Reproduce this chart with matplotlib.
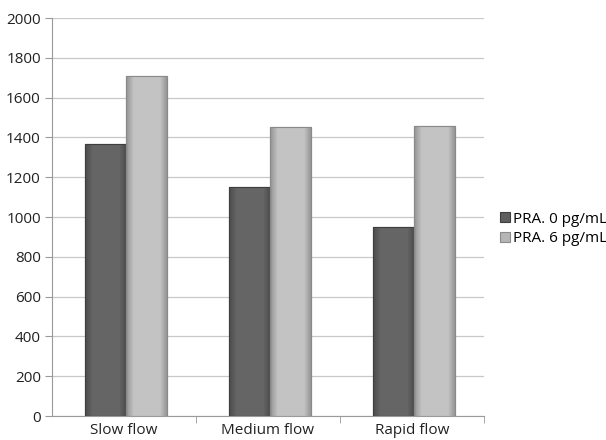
import matplotlib.pyplot as plt
import numpy as np

categories = ["Slow flow", "Medium flow", "Rapid flow"]
pra_0 = [1365, 1150, 950]
pra_6 = [1710, 1452, 1458]
series_labels = ["PRA. 0 pg/mL", "PRA. 6 pg/mL"]
y_ticks = [0, 200, 400, 600, 800, 1000, 1200, 1400, 1600, 1800, 2000]

plt.rcParams['font.family'] = ['Open Sans', 'DejaVu Sans']

fig = plt.figure(figsize=(6.06, 4.4), dpi=100)
ax = fig.add_axes([0.0858, 0.0545, 0.713, 0.9045])

x = np.arange(len(categories))
w = 0.285
shift = 0.015
colors = ["#5e5e5e", "#b5b5b5"]
edges = ["#3e3e3e", "#8a8a8a"]


def shade_bars(bars, base):
    # soft horizontal gradient to mimic the bevelled Excel look
    c = np.array(plt.matplotlib.colors.to_rgb(base))
    prof = np.concatenate([np.linspace(0.82, 1.08, 8), np.full(24, 1.08), np.linspace(1.08, 0.8, 8)])
    img = np.clip(c[None, :] * prof[:, None], 0, 1)[None, :, :]
    for b in bars:
        x0, y0 = b.get_x(), b.get_y()
        im = ax.imshow(img, extent=[x0, x0 + b.get_width(), y0, y0 + b.get_height()],
                       aspect='auto', zorder=3, interpolation='bilinear')
        im.set_clip_path(b)


b0 = ax.bar(x - w / 2 + shift, pra_0, w, color=colors[0], edgecolor=edges[0], linewidth=0.8,
            label=series_labels[0], zorder=3)
b1 = ax.bar(x + w / 2 + shift, pra_6, w, color=colors[1], edgecolor=edges[1], linewidth=0.8,
            label=series_labels[1], zorder=3)
shade_bars(b0, colors[0])
shade_bars(b1, colors[1])
for b in list(b0) + list(b1):
    ax.add_patch(plt.Rectangle((b.get_x(), b.get_y()), b.get_width(), b.get_height(),
                               fill=False, edgecolor=b.get_edgecolor(), linewidth=0.8, zorder=4))

ax.set_xlim(-0.5, 2.5)
ax.set_ylim(0, 2000)
ax.set_yticks(y_ticks)
ax.set_xticks(x)
ax.set_xticklabels(categories)
ax.set_xticks([0.5, 1.5, 2.5], minor=True)
ax.tick_params(axis='x', which='major', length=0, pad=5, labelsize=11, colors="#222222")
ax.tick_params(axis='x', which='minor', length=5, color="#9a9a9a", direction='out')
ax.tick_params(axis='y', length=5, color="#9a9a9a", labelsize=11, colors="#222222", pad=3)

ax.yaxis.grid(True, color="#c8c8c8", linewidth=0.9, zorder=0)
ax.set_axisbelow(True)
for s in ["top", "right"]:
    ax.spines[s].set_visible(False)
ax.spines["left"].set_color("#9a9a9a")
ax.spines["bottom"].set_color("#9a9a9a")

ax.legend(loc='center left', bbox_to_anchor=(1.005, 0.47), frameon=False, fontsize=11,
          handlelength=0.65, handleheight=0.65, handletextpad=0.2, labelspacing=0.3)

plt.savefig("out.png", dpi=100)
